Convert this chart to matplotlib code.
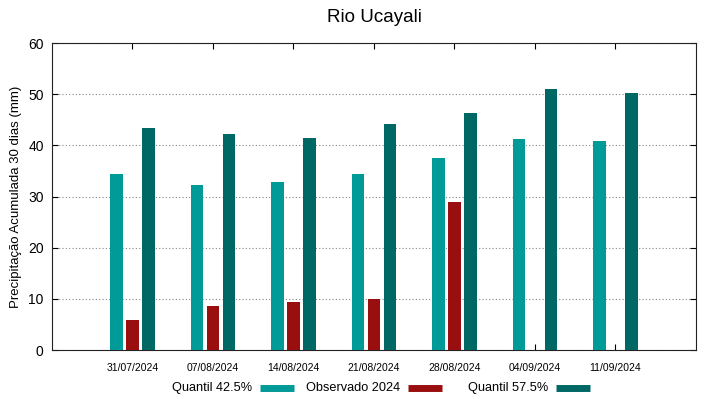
import numpy as np
import matplotlib
matplotlib.use("Agg")
import matplotlib.pyplot as plt
from matplotlib.lines import Line2D

plt.rcParams['font.family'] = ['Liberation Sans', 'DejaVu Sans']

# Data
dates = ["31/07/2024", "07/08/2024", "14/08/2024", "21/08/2024",
         "28/08/2024", "04/09/2024", "11/09/2024"]
q425 = [34.5, 32.2, 32.8, 34.4, 37.5, 41.2, 40.8]
observado = [5.9, 8.6, 9.4, 10.0, 28.9, np.nan, np.nan]
q575 = [43.4, 42.2, 41.4, 44.2, 46.4, 51.0, 50.3]
series_names = ["Quantil 42.5%", "Observado 2024", "Quantil 57.5%"]

c_q425 = '#009a98'
c_obs = '#990f10'
c_q575 = '#006864'

W, H = 719, 399
fig = plt.figure(figsize=(W / 100, H / 100), dpi=100)
ax = fig.add_axes([0.0723, 0.1228, 0.8957, 0.7692])

x = np.arange(len(dates))
w = 0.155
ax.bar(x - 0.2, q425, w, color=c_q425, zorder=3)
ax.bar(x, observado, w, color=c_obs, zorder=3)
ax.bar(x + 0.2, q575, w, color=c_q575, zorder=3)

ax.set_xlim(-1, 7)
ax.set_ylim(0, 60)
ax.set_xticks(x)
ax.set_xticklabels(dates, fontsize=7.5)
ax.set_yticks(range(0, 61, 10))
ax.tick_params(axis='y', labelsize=10, direction='in', length=4, right=True, pad=6)
ax.tick_params(axis='x', direction='in', length=4, top=True, pad=9)
ax.yaxis.grid(True, linestyle=(0, (1, 2)), color='#888888', linewidth=0.8, zorder=0)
for s in ax.spines.values():
    s.set_linewidth(0.8)
    s.set_color('#222222')

ax.set_ylabel("Precipitação Acumulada 30 dias (mm)", fontsize=9.5, labelpad=4)
ax.set_title("Rio Ucayali", fontsize=13.5, pad=15)

# gnuplot-like legend: text right-aligned, sample line after it
text_right = [252, 400, 548]
ly = (H - 388) / H
for name, c, xr in zip(series_names, (c_q425, c_obs, c_q575), text_right):
    fig.text(xr / W, ly, name, ha='right', va='center', fontsize=9.2)
    fig.add_artist(Line2D([(xr + 8) / W, (xr + 42) / W], [ly, ly], color=c,
                          linewidth=5, solid_capstyle='butt',
                          transform=fig.transFigure))

fig.savefig("out.png", dpi=100)
